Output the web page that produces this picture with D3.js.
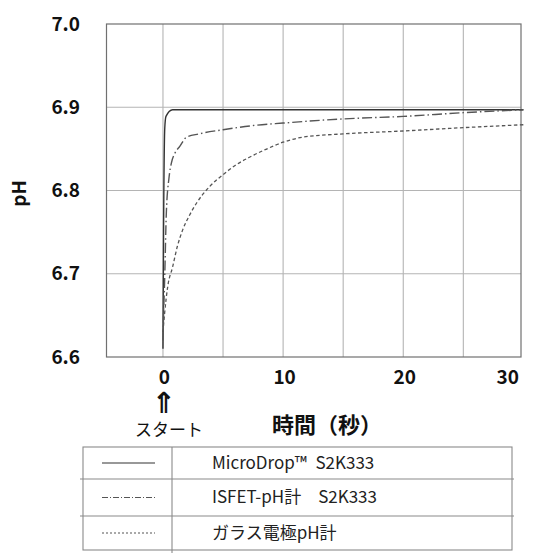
<!DOCTYPE html>
<html>
<head>
<meta charset="utf-8">
<script src="https://cdn.jsdelivr.net/npm/d3@7"></script>
<style>
  html, body { margin: 0; padding: 0; background: #fff; }
  svg { display: block; }
  text { font-family: "Noto Sans CJK JP", "Noto Sans", sans-serif; }
</style>
</head>
<body>
<svg id="chart" width="539" height="555"></svg>
<script>
// ---- data ----
const seriesNames = ["MicroDrop™\u2002S2K333", "ISFET-pH計\u2003S2K333", "ガラス電極pH計"];
const microTime = [0, 0.05, 0.15, 0.25, 0.8, 5, 10, 20, 30];
const microPH   = [6.61, 6.75, 6.875, 6.889, 6.897, 6.897, 6.897, 6.897, 6.897];
const isfetTime = [0, 0.05, 0.14, 0.28, 0.5, 0.7, 1.0, 1.4, 1.95, 3, 5, 7.5, 10, 15, 20, 25, 30];
const isfetPH   = [6.62, 6.65, 6.693, 6.773, 6.815, 6.833, 6.845, 6.853, 6.864, 6.868, 6.873, 6.878, 6.881, 6.886, 6.889, 6.8935, 6.897];
const glassTime = [0, 0.14, 0.4, 0.8, 1.2, 1.65, 2.2, 2.8, 3.9, 5, 6, 7.2, 8.5, 10, 11.6, 15, 20, 25, 30];
const glassPH   = [6.63, 6.653, 6.685, 6.708, 6.733, 6.753, 6.77, 6.785, 6.805, 6.819, 6.83, 6.84, 6.849, 6.858, 6.864, 6.868, 6.8715, 6.8755, 6.879];
const xTicks = [0, 10, 20, 30];
const xGrid = [0, 5, 10, 15, 20, 25];
const yTicks = [6.6, 6.7, 6.8, 6.9, 7.0];
const yTickLabels = ["6.6", "6.7", "6.8", "6.9", "7.0"];
const xTitle = "時間（秒）";
const yTitle = "pH";
const startLabel = "スタート";

// ---- layout ----
const svg = d3.select("#chart");
const pL = 106.5, pR = 521, pT = 24, pB = 357;
const x = d3.scaleLinear().domain([-4.7, 29.8]).range([pL, pR]);
const y = d3.scaleLinear().domain([6.6, 7.0]).range([pB, pT]);

// grid
svg.append("g").selectAll("line").data(xGrid).join("line")
  .attr("x1", d => x(d)).attr("x2", d => x(d))
  .attr("y1", pT).attr("y2", pB)
  .attr("stroke", "#b4b4b4").attr("stroke-width", 1.1);
svg.append("g").selectAll("line").data(yTicks.slice(1, 4)).join("line")
  .attr("x1", pL).attr("x2", pR)
  .attr("y1", d => y(d)).attr("y2", d => y(d))
  .attr("stroke", "#b4b4b4").attr("stroke-width", 1.1);

// border
svg.append("rect")
  .attr("x", pL).attr("y", pT)
  .attr("width", pR - pL).attr("height", pB - pT)
  .attr("fill", "none").attr("stroke", "#707070").attr("stroke-width", 1.2);

// y tick labels
svg.append("g").selectAll("text").data(yTicks).join("text")
  .attr("x", 80).attr("y", d => y(d))
  .attr("dy", "0.35em")
  .attr("text-anchor", "end")
  .attr("font-size", 19).attr("font-weight", "bold").attr("fill", "#111")
  .text((d, i) => yTickLabels[i]);

// x tick labels
svg.append("g").selectAll("text").data(xTicks).join("text")
  .attr("x", d => d === 30 ? pR - 2 : x(d) + 1.5)
  .attr("y", 384)
  .attr("text-anchor", d => d === 30 ? "end" : "middle")
  .attr("font-size", 19).attr("font-weight", "bold").attr("fill", "#111")
  .text(d => d);

// start arrow and label
svg.append("text").attr("x", x(0) + 1).attr("y", 413)
  .attr("text-anchor", "middle").attr("font-size", 29).attr("font-weight", "bold")
  .style("font-family", "'DejaVu Sans', sans-serif")
  .attr("fill", "#111").text("⇑");
svg.append("text").attr("x", x(0) + 6).attr("y", 436)
  .attr("text-anchor", "middle").attr("font-size", 17).attr("fill", "#111")
  .text(startLabel);

// axis titles
svg.append("text").attr("x", 327).attr("y", 433)
  .attr("text-anchor", "middle").attr("font-size", 22).attr("font-weight", "bold")
  .attr("fill", "#111").text(xTitle);
svg.append("text")
  .attr("transform", `translate(26,${(pT + pB) / 2 + 3}) rotate(-90)`)
  .attr("text-anchor", "middle").attr("font-size", 19).attr("font-weight", "bold")
  .attr("fill", "#111").text(yTitle);

// curves
const styles = [
  { dash: null, color: "#333", w: 1.4 },
  { dash: "10,3,1.5,3", color: "#555", w: 1.4 },
  { dash: "3.5,2.5", color: "#555", w: 1.3 }
];
const series = [
  microTime.map((t, i) => [t, microPH[i]]),
  isfetTime.map((t, i) => [t, isfetPH[i]]),
  glassTime.map((t, i) => [t, glassPH[i]])
];
const line = d3.line().x(d => x(d[0])).y(d => y(d[1])).curve(d3.curveMonotoneX);
series.forEach((s, i) => {
  svg.append("path").datum(s)
    .attr("d", line)
    .attr("fill", "none")
    .attr("stroke", styles[i].color)
    .attr("stroke-width", styles[i].w)
    .attr("stroke-dasharray", styles[i].dash);
});

// legend table
const tL = 83, tR = 512, divX = 172;
const rowY = [447, 479, 516, 550];
const lg = svg.append("g");
lg.append("rect").attr("x", tL).attr("y", rowY[0])
  .attr("width", tR - tL).attr("height", rowY[3] - rowY[0])
  .attr("fill", "none").attr("stroke", "#8a8a8a").attr("stroke-width", 1.1);
lg.selectAll("line.sep").data([rowY[1], rowY[2]]).join("line")
  .attr("class", "sep")
  .attr("x1", 80).attr("x2", tR + 2).attr("y1", d => d).attr("y2", d => d)
  .attr("stroke", "#8a8a8a").attr("stroke-width", 1.1);
lg.append("line").attr("x1", divX).attr("x2", divX)
  .attr("y1", rowY[0]).attr("y2", rowY[3] + 3)
  .attr("stroke", "#8a8a8a").attr("stroke-width", 1.1);
seriesNames.forEach((name, i) => {
  const cy = (rowY[i] + rowY[i + 1]) / 2;
  lg.append("line").attr("x1", 102).attr("x2", 155)
    .attr("y1", cy).attr("y2", cy)
    .attr("stroke", styles[i].color).attr("stroke-width", 1.1)
    .attr("stroke-dasharray", i === 0 ? null : (i === 1 ? "6,2,1,2" : "2,2"));
  lg.append("text").attr("x", 212).attr("y", cy).attr("dy", "0.35em")
    .attr("font-size", 17).attr("fill", "#222")
    .text(name);
});
</script>
</body>
</html>
